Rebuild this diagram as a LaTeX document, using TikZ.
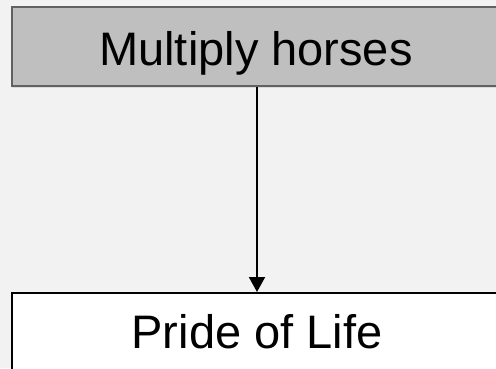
\documentclass[tikz,border=0pt]{standalone}
\usepackage{fontspec}
\setmainfont{Liberation Sans}
\usetikzlibrary{arrows.meta,shadows}
\begin{document}
\begin{tikzpicture}[x=1pt,y=1pt,
  bigtext/.style={font=\fontsize{47}{56}\selectfont, inner sep=0pt},
  topbox/.style={draw=black!62, line width=1.5pt, fill=black!25, minimum width=490pt, minimum height=79pt, inner sep=0pt, drop shadow={shadow xshift=0pt, shadow yshift=-2pt, opacity=0.2}},
  botbox/.style={draw=black, line width=1.5pt, fill=white, minimum width=490pt, minimum height=120pt, inner sep=0pt},
  conn/.style={-{Triangle[length=15pt,width=16pt]}, line width=2pt}]
\useasboundingbox (0,0) rectangle (496,-368);
\clip (0,0) rectangle (496,-368);
\fill[black!5] (0,0) rectangle (496,-368);
\node[topbox] (a) at (257,-46.5) {};
\node[bigtext, anchor=base] (at) at (256,-65) {Multiply horses};
\node[botbox, anchor=north] (b) at (257,-292) {};
\node[bigtext, anchor=base] (bt) at (257,-348) {Pride of Life};
\draw[conn] (a.south) -- (b.north);
\end{tikzpicture}
\end{document}
